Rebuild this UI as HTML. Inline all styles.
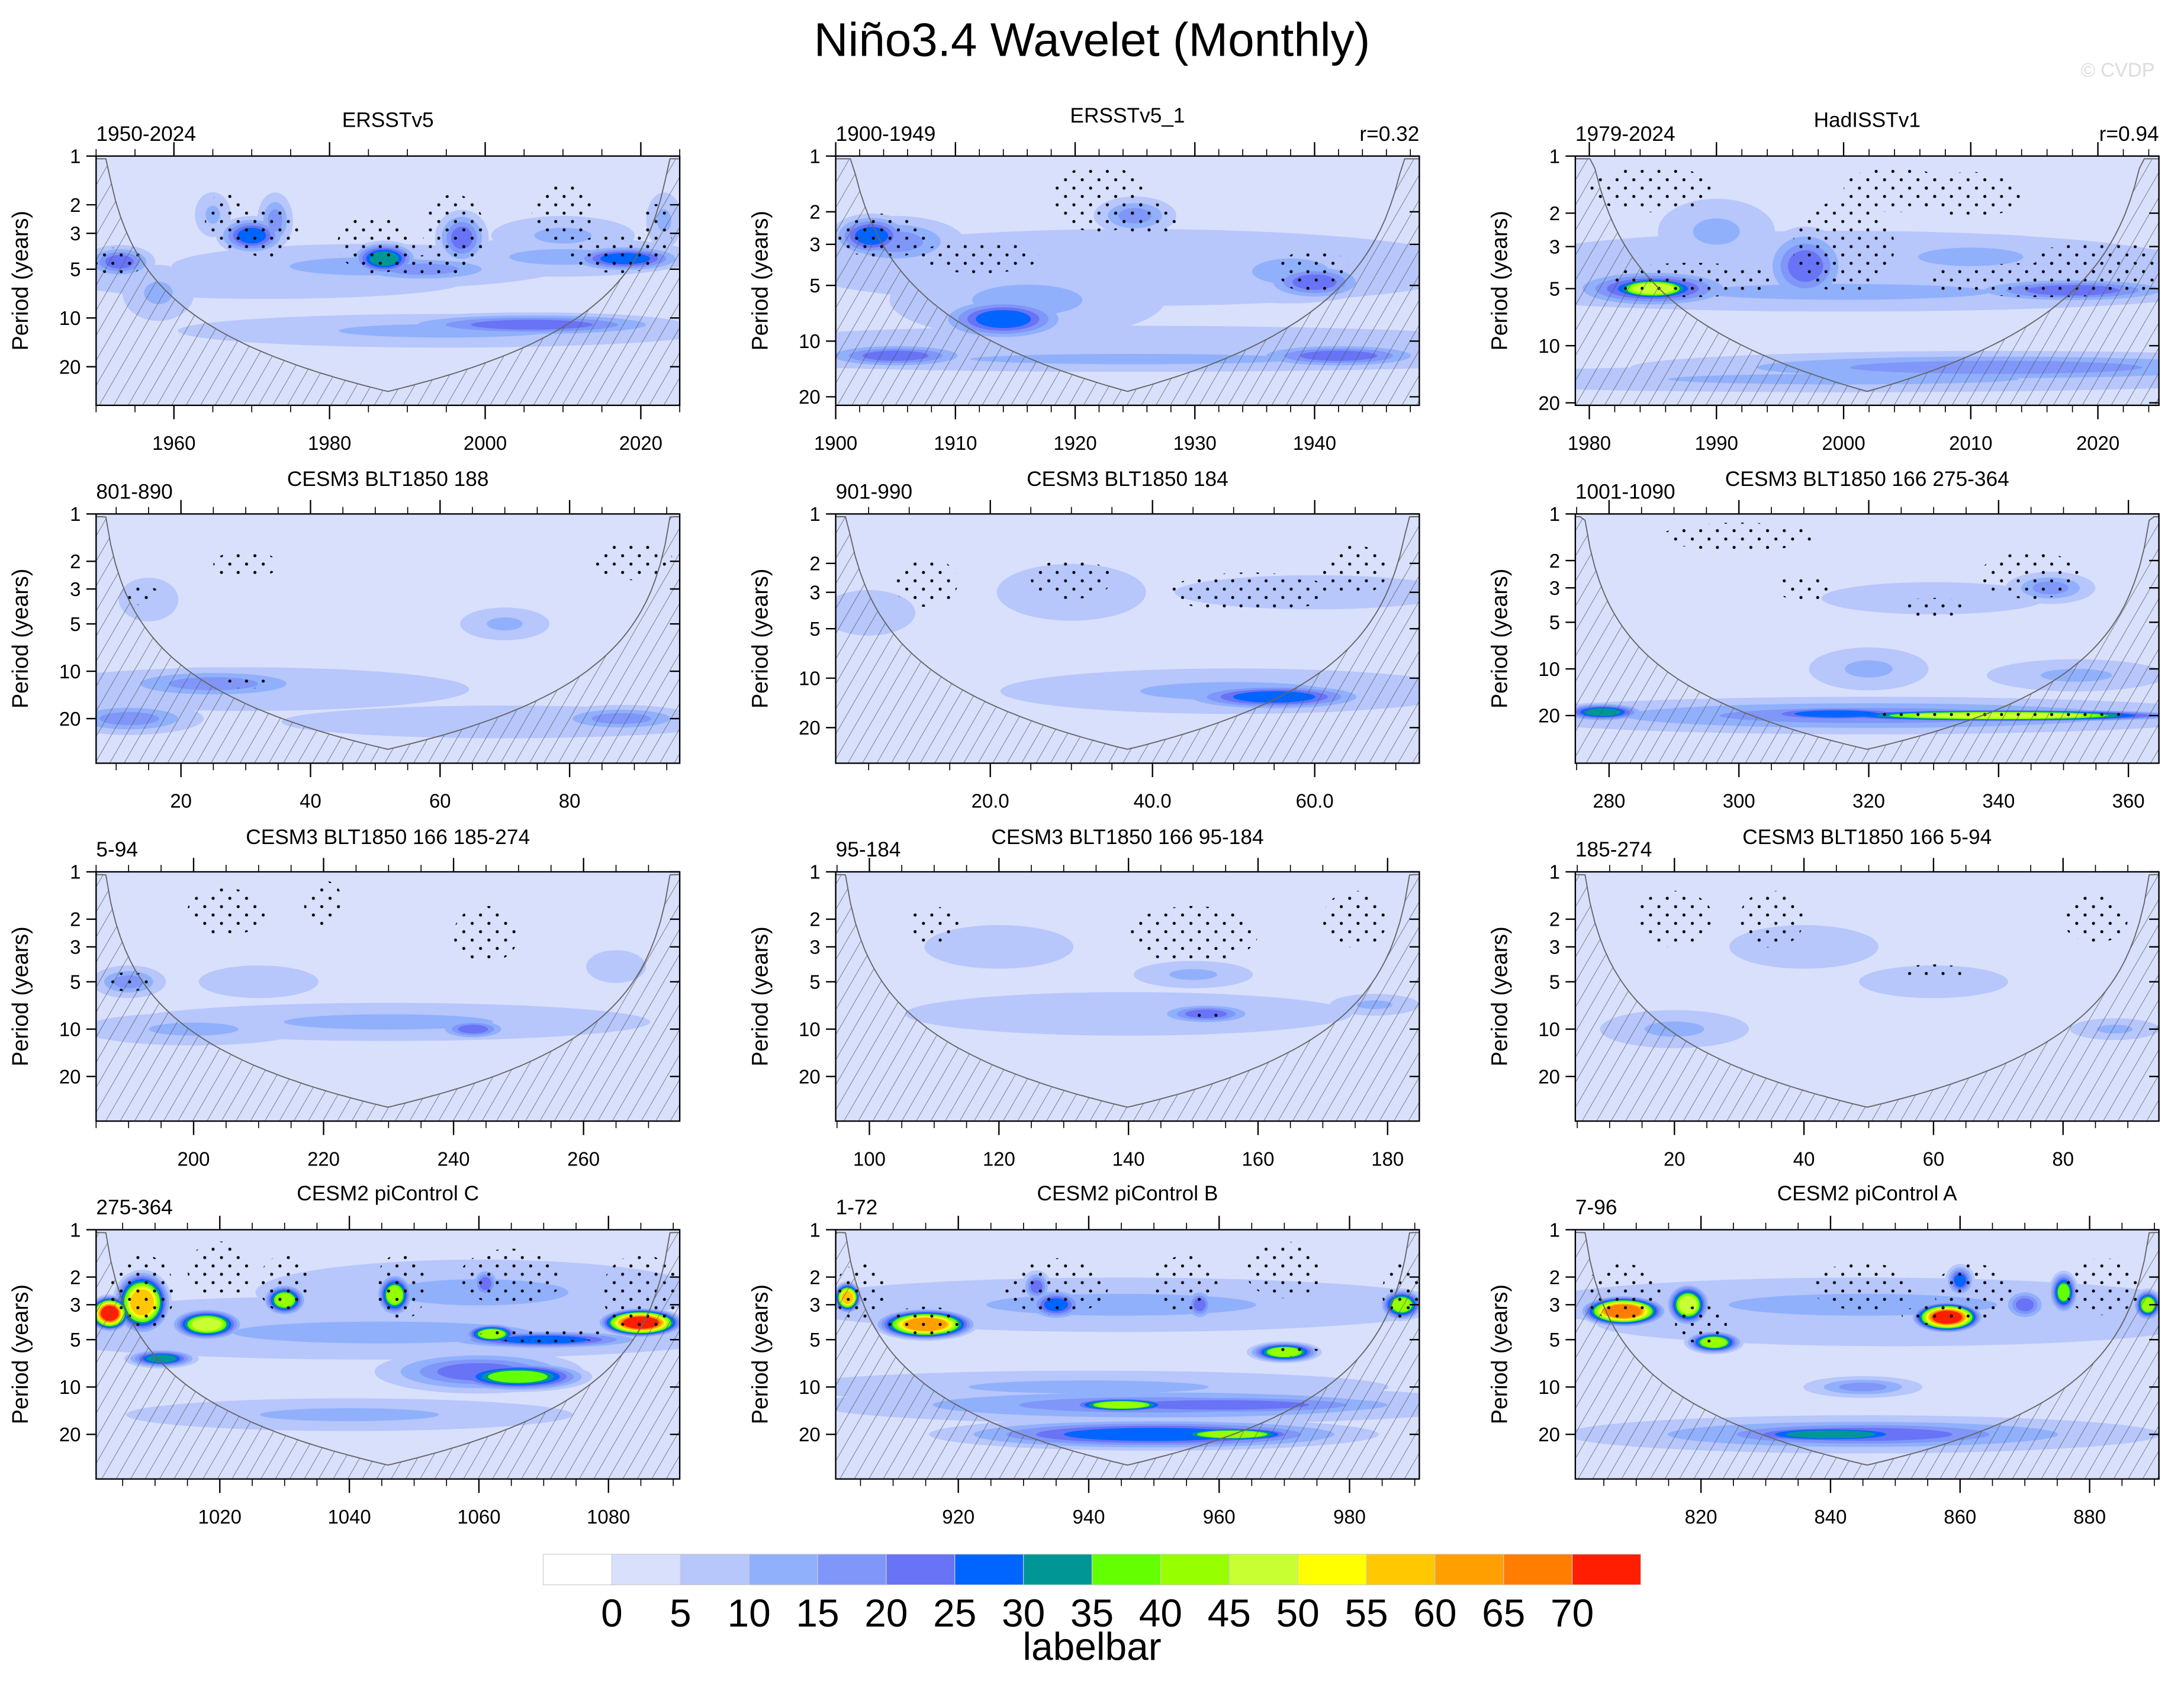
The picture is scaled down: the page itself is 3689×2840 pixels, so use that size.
<!DOCTYPE html>
<html><head><meta charset="utf-8">
<style>
html,body{margin:0;padding:0;background:#fff;}
svg{display:block;}
text{font-family:"Liberation Sans",Arial,sans-serif;fill:#000;}
</style></head>
<body>
<svg id="fig" xmlns="http://www.w3.org/2000/svg" width="3689" height="2840" viewBox="0 0 1568 1207">
<defs>
<pattern id="hatch" patternUnits="userSpaceOnUse" width="9" height="9" patternTransform="rotate(30)">
<line x1="0" y1="0" x2="0" y2="9" stroke="#555" stroke-width="0.6"/>
</pattern>
<pattern id="dots" patternUnits="userSpaceOnUse" width="12" height="12">
<circle cx="3" cy="3" r="1.1" fill="#000"/>
<circle cx="9" cy="9" r="1.1" fill="#000"/>
</pattern>
</defs>
<text x="784" y="40" font-size="34" text-anchor="middle">Niño3.4 Wavelet (Monthly)</text>
<text x="1547" y="55" font-size="14" text-anchor="end" style="fill:#dcdcdc">© CVDP</text>
<g id="panels"></g>
<g id="labelbar"></g>
</svg>
<script>
// ---- color levels (labelbar) ----
const COLORS=["#ffffff","#d8e0fc","#b7c6fb","#90b0fc","#8096f8","#6873f6","#0064ff","#009696","#64ff00","#96ff00","#c8ff32","#ffff00","#ffc800","#ffa000","#ff7d00","#ff1e00"];
const LEVEL_LABELS=["0","5","10","15","20","25","30","35","40","45","50","55","60","65","70"];

// ---- panel data: blobs [time, period, halfWidth(time), halfHeight(octaves), level] ----
const blobs_ersst=[[1985,4.8,22,0.4,3],[2010,4.2,15,0.35,3],[1953,4.5,4,0.3,5],[1970,3.1,4,0.35,6],[1965,2.3,2,0.4,3],[1973,2.5,2,0.5,4],[1987,4.3,4,0.32,7],[1992,5,10,0.25,4],[1997,3.2,3,0.5,5],[2018,4.3,7,0.25,6],[2010,3.1,8,0.35,3],[2023,2.5,2,0.5,3],[2006,11,17,0.22,5],[1995,12,30,0.3,3],[1972,6,22,0.3,2],[1958,7,4,0.5,3]];
const blobs_ersst1=[[1925,4,25,0.6,2],[1903,2.7,3,0.35,6],[1905,2.9,5,0.4,4],[1914,7.6,5,0.35,6],[1916,6,10,0.6,3],[1925,2.1,3,0.3,4],[1940,4.8,4,0.3,5],[1938,4.2,7,0.5,3],[1925,10.5,30,0.3,2],[1905,12,6,0.2,5],[1942,12,7,0.2,5],[1925,12.5,30,0.2,3],[1920,4,18,0.3,2]];
const blobs_hadisst=[[2000,4,25,0.6,2],[1985,5,3.5,0.2,10],[1985,5,6,0.3,6],[1997,3.8,3,0.6,5],[2018,5.1,8,0.2,5],[2010,3.4,9,0.35,3],[1990,2.5,4,0.5,3],[2012,13,25,0.25,4],[2000,15,30,0.2,3],[2000,5.2,25,0.3,3]];
const blobs_c188=[[25,12,15,0.3,4],[12,20,10,0.3,4],[88,20,10,0.25,4],[30,13,30,0.4,2],[70,21,30,0.3,2],[15,3.5,4,0.4,2],[70,5,6,0.3,3]];
const blobs_c184=[[55,13,11,0.25,6],[50,12,25,0.4,3],[30,3,8,0.5,2],[5,4,5,0.4,2],[60,3,15,0.3,2]];
const blobs_c275=[[340,20,28,0.13,10],[315,19.5,14,0.16,6],[279,19,6,0.18,7],[320,20,50,0.35,4],[348,3,6,0.3,4],[330,3.5,15,0.3,2],[352,11,12,0.3,3],[320,10,8,0.4,3]];
const blobs_c185=[[190,5,5,0.3,4],[243,10,5,0.2,5],[230,9,35,0.35,3],[200,10,15,0.3,3],[210,5,8,0.3,2],[265,4,4,0.3,2]];
const blobs_c95=[[152,8,7,0.2,5],[150,4.5,8,0.25,3],[140,8,30,0.4,2],[178,7,6,0.2,3],[120,3,10,0.4,2]];
const blobs_c5=[[20,10,10,0.35,3],[60,5,10,0.3,2],[88,10,6,0.2,3],[40,3,10,0.4,2]];
const blobs_pC=[[1045,4.5,50,0.5,3],[1060,2.5,30,0.6,3],[1003,3.4,3,0.35,15],[1008,2.9,4,0.6,12],[1018,4,5,0.3,10],[1011,6.6,5,0.18,7],[1030,2.8,3,0.3,9],[1047,2.6,2.5,0.4,9],[1062,4.6,4,0.2,9],[1085,3.9,6,0.28,15],[1066,8.6,10,0.28,8],[1060,8,14,0.4,5],[1061,2.2,2,0.3,5],[1070,5,15,0.18,6],[1040,15,30,0.3,3],[1030,4,30,0.5,2]];
const blobs_pB=[[945,3,45,0.5,3],[950,13,45,0.35,4],[903,2.7,2,0.3,12],[915,4,7,0.3,13],[935,3,4,0.3,6],[945,13,8,0.15,9],[962,20,10,0.15,9],[950,20,30,0.3,6],[970,6,5,0.2,9],[960,13,30,0.22,5],[988,3,3,0.3,9],[957,3,2,0.3,5],[932,2.3,2,0.3,5],[940,10,40,0.3,3]];
const blobs_pA=[[845,3,45,0.5,3],[845,20,40,0.35,4],[808,3.3,6,0.3,14],[818,3,3,0.4,10],[822,5.2,4,0.22,9],[858,3.6,5,0.3,15],[840,20,15,0.18,7],[845,20,30,0.3,5],[845,10,8,0.2,4],[876,2.5,2,0.4,8],[889,3,2,0.3,9],[870,3,3,0.3,5],[860,2.1,2,0.3,6],[850,4,40,0.4,2]];

// ---- stipple regions [time, period, halfWidth, halfHeight(oct)] ----
const dots_ersst=[[1967,2.5,3,0.6],[1972,3,4,0.5],[1986,3.5,5,0.6],[1996,3,4,0.8],[1993,4.7,6,0.2],[2010,2.2,4,0.6],[2017,4,6,0.4],[2022,3,2,0.6],[1953,4.5,3,0.3]];
const dots_ersst1=[[1904,2.7,4,0.4],[1912,3.5,5,0.3],[1922,1.7,4,0.6],[1926,2.2,3,0.3],[1940,4.2,3,0.4]];
const dots_hadisst=[[1985,1.5,5,0.4],[1988,4.5,7,0.3],[2000,3,4,0.8],[2004,1.5,4,0.4],[2016,4.5,10,0.3],[2010,1.6,4,0.4],[2020,3.5,5,0.3]];
const dots_c188=[[14,3.3,3,0.2],[30,2.1,5,0.3],[90,2,6,0.4],[30,12,5,0.1]];
const dots_c184=[[12,2.6,4,0.5],[30,2.5,5,0.4],[52,3,10,0.4],[65,2.2,4,0.5]];
const dots_c275=[[310,3,4,0.3],[345,2.5,8,0.5],[300,1.4,12,0.3],[340,19.5,20,0.12],[330,4,6,0.2]];
const dots_c185=[[190,5,4,0.2],[205,1.8,6,0.5],[245,2.5,5,0.6],[220,1.6,3,0.5]];
const dots_c95=[[110,2.2,4,0.4],[150,2.5,10,0.6],[175,2,5,0.6],[152,8,3,0.08]];
const dots_c5=[[20,2,6,0.6],[35,2,5,0.6],[60,4.3,5,0.15],[85,2,5,0.5]];
const dots_pC=[[1008,2.5,5,0.8],[1020,1.8,5,0.6],[1030,2.2,4,0.6],[1048,2.3,4,0.7],[1065,2,8,0.6],[1085,2.5,6,0.8],[1070,4.7,10,0.15]];
const dots_pB=[[905,2.5,4,0.6],[915,3.8,6,0.3],[935,2.3,8,0.6],[955,2.2,5,0.6],[970,1.8,6,0.6],[988,2.5,3,0.6],[972,6,4,0.1]];
const dots_pA=[[808,2.5,6,0.6],[820,4,4,0.4],[845,2.3,8,0.5],[862,2.5,6,0.6],[882,2.3,6,0.6],[855,3.5,4,0.2]];

// ---- panel metadata ----
const PANELS=[
 {title:"ERSSTv5",left:"1950-2024",right:"",x0:69,y0:112,t0:1950,t1:2025,k:35,ticks:[1960,1980,2000,2020],minor:5,blobs:blobs_ersst,dots:dots_ersst,ty:91},
 {title:"ERSSTv5_1",left:"1900-1949",right:"r=0.32",x0:600,y0:112,t0:1900,t1:1948.75,k:40,ticks:[1900,1910,1920,1930,1940],minor:2,blobs:blobs_ersst1,dots:dots_ersst1,ty:88},
 {title:"HadISSTv1",left:"1979-2024",right:"r=0.94",x0:1131,y0:112,t0:1978.9,t1:2024.8,k:41,ticks:[1980,1990,2000,2010,2020],minor:2,blobs:blobs_hadisst,dots:dots_hadisst,ty:91},
 {title:"CESM3 BLT1850 188",left:"801-890",right:"",x0:69,y0:369,t0:6.9,t1:97,k:34,ticks:[20,40,60,80],minor:5,blobs:blobs_c188,dots:dots_c188,ty:349},
 {title:"CESM3 BLT1850 184",left:"901-990",right:"",x0:600,y0:369,t0:0.94,t1:72.9,k:35.5,ticks:[20,40,60],tickFmt:1,minor:5,blobs:blobs_c184,dots:dots_c184,ty:349},
 {title:"CESM3 BLT1850 166 275-364",left:"1001-1090",right:"",x0:1131,y0:369,t0:274.8,t1:364.7,k:33.5,ticks:[280,300,320,340,360],minor:5,blobs:blobs_c275,dots:dots_c275,ty:349},
 {title:"CESM3 BLT1850 166 185-274",left:"5-94",right:"",x0:69,y0:626,t0:185,t1:274.8,k:34,ticks:[200,220,240,260],minor:5,blobs:blobs_c185,dots:dots_c185,ty:606},
 {title:"CESM3 BLT1850 166 95-184",left:"95-184",right:"",x0:600,y0:626,t0:94.8,t1:184.9,k:34,ticks:[100,120,140,160,180],minor:5,blobs:blobs_c95,dots:dots_c95,ty:606},
 {title:"CESM3 BLT1850 166 5-94",left:"185-274",right:"",x0:1131,y0:626,t0:4.7,t1:94.8,k:34,ticks:[20,40,60,80],minor:5,blobs:blobs_c5,dots:dots_c5,ty:606},
 {title:"CESM2 piControl C",left:"275-364",right:"",x0:69,y0:883,t0:1000.9,t1:1091,k:34,ticks:[1020,1040,1060,1080],minor:5,blobs:blobs_pC,dots:dots_pC,ty:862},
 {title:"CESM2 piControl B",left:"1-72",right:"",x0:600,y0:883,t0:901.2,t1:990.7,k:34,ticks:[920,940,960,980],minor:5,blobs:blobs_pB,dots:dots_pB,ty:862},
 {title:"CESM2 piControl A",left:"7-96",right:"",x0:1131,y0:883,t0:800.6,t1:890.7,k:34,ticks:[820,840,860,880],minor:5,blobs:blobs_pA,dots:dots_pA,ty:862}
];
const PERIOD_TICKS=[1,2,3,5,10,20];

const NS="http://www.w3.org/2000/svg";
function mk(tag,attrs,parent){const e=document.createElementNS(NS,tag);for(const a in attrs)e.setAttribute(a,attrs[a]);if(parent)parent.appendChild(e);return e;}
const root=document.getElementById('panels');
const W=419,H=179;

PANELS.forEach((p,i)=>{
  const g=mk('g',{},root);
  
  
  const xs=t=>p.x0+(t-p.t0)/(p.t1-p.t0)*W;
  const ys=per=>p.y0+Math.log2(per)*p.k;
  const ppu=W/(p.t1-p.t0);
  const cid='clip'+i;
  const cp=mk('clipPath',{id:cid},g);mk('rect',{x:p.x0,y:p.y0,width:W,height:H},cp);
  const plot=mk('g',{'clip-path':'url(#'+cid+')'},g);
  
  
  mk('rect',{x:p.x0,y:p.y0,width:W,height:H,fill:COLORS[1]},plot);
  for(let lvl=2;lvl<=15;lvl++){
    p.blobs.forEach(b=>{
      const L=b[4];if(L<lvl)return;
      const f=1-0.6*Math.pow((lvl-2)/Math.max(1,L-2),0.8);
      const el=mk('ellipse',{cx:xs(b[0]),cy:ys(b[1]),rx:b[2]*ppu*f*1.15,ry:b[3]*p.k*f*1.15,fill:COLORS[lvl]},plot);
      
      
    });
  }
  p.dots.forEach(d=>{
    const el=mk('ellipse',{cx:xs(d[0]),cy:ys(d[1]),rx:d[2]*ppu,ry:d[3]*p.k,fill:'url(#dots)'},plot);
    
    
  });
  // cone of influence
  const half=(p.t1-p.t0)/2;
  const yc=p.y0+H-10;
  const pc=Math.pow(2,(yc-p.y0)/p.k);
  const c=pc/half;
  let pts=[];
  const N=60;
  for(let j=0;j<=N;j++){const t=p.t0+half*j/N;const per=Math.max(c*(t-p.t0),0.5);pts.push([xs(t),Math.max(p.y0+2,ys(per))]);}
  for(let j=N-1;j>=0;j--){const t=p.t0+half*j/N;const per=Math.max(c*(t-p.t0),0.5);pts.push([p.x0+p.x0+W-xs(t),Math.max(p.y0+2,ys(per))]);}
  let dstr='M'+p.x0+','+(p.y0+2)+' '+pts.map(q=>'L'+q[0].toFixed(1)+','+q[1].toFixed(1)).join(' ')+' L'+(p.x0+W)+','+(p.y0+H)+' L'+p.x0+','+(p.y0+H)+'Z';
  const hz=mk('path',{d:dstr,fill:'url(#hatch)',stroke:'none'},plot);
  
  
  const cl=mk('path',{d:'M'+pts.map(q=>q[0].toFixed(1)+','+q[1].toFixed(1)).join(' L'),fill:'none',stroke:'#666','stroke-width':0.8},plot);
  
  
  const fr=mk('rect',{x:p.x0,y:p.y0,width:W,height:H,fill:'none',stroke:'#000','stroke-width':1},g);
  
  
  PERIOD_TICKS.forEach(pt=>{
    const y=ys(pt);if(y>p.y0+H+0.5)return;
    mk('line',{x1:p.x0-7,x2:p.x0,y1:y,y2:y,stroke:'#000','stroke-width':1},g);
    mk('line',{x1:p.x0+W-7,x2:p.x0+W,y1:y,y2:y,stroke:'#000','stroke-width':1},g);
    const tx=mk('text',{x:p.x0-11,y:y+5,'font-size':14,'text-anchor':'end'},g);tx.textContent=pt;
    
    
  });
  const mstart=Math.ceil(p.t0/p.minor)*p.minor;
  for(let t=mstart;t<=p.t1;t+=p.minor){
    const x=xs(t);
    mk('line',{x1:x,x2:x,y1:p.y0+H,y2:p.y0+H+5,stroke:'#000','stroke-width':0.7},g);
    mk('line',{x1:x,x2:x,y1:p.y0,y2:p.y0-5,stroke:'#000','stroke-width':0.7},g);
  }
  p.ticks.forEach(t=>{
    const x=xs(t);
    mk('line',{x1:x,x2:x,y1:p.y0+H,y2:p.y0+H+10,stroke:'#000','stroke-width':1},g);
    mk('line',{x1:x,x2:x,y1:p.y0,y2:p.y0-10,stroke:'#000','stroke-width':1},g);
    const tx=mk('text',{x:x,y:p.y0+H+32,'font-size':14,'text-anchor':'middle'},g);
    tx.textContent=p.tickFmt?t.toFixed(1):t;
    
    
  });
  const yt=mk('text',{x:0,y:0,'font-size':16,'text-anchor':'middle',transform:'translate('+(p.x0-49)+','+(p.y0+H/2)+') rotate(-90)'},g);
  yt.textContent='Period (years)';
  
  
  const t1=mk('text',{x:p.x0+W/2,y:p.ty,'font-size':15,'text-anchor':'middle'},g);t1.textContent=p.title;
  
  
  const t2=mk('text',{x:p.x0,y:p.y0-11,'font-size':15,'text-anchor':'start'},g);t2.textContent=p.left;
  
  
  if(p.right){const t3=mk('text',{x:p.x0+W,y:p.y0-11,'font-size':15,'text-anchor':'end'},g);t3.textContent=p.right;
  
  }
});

const lb=document.getElementById('labelbar');
const bx=390,by=1116,bw=49.25,bh=22;
COLORS.forEach((col,i)=>{
  const r=mk('rect',{x:bx+i*bw,y:by,width:bw,height:bh,fill:col,stroke:'#ccc','stroke-width':0.5},lb);
  
  
});
LEVEL_LABELS.forEach((s,i)=>{
  const t=mk('text',{x:bx+(i+1)*bw,y:by+bh+30,'font-size':28,'text-anchor':'middle'},lb);t.textContent=s;
  
  
});
const lt=mk('text',{x:784,y:1192,'font-size':28,'text-anchor':'middle'},lb);lt.textContent='labelbar';


</script>
</body></html>
